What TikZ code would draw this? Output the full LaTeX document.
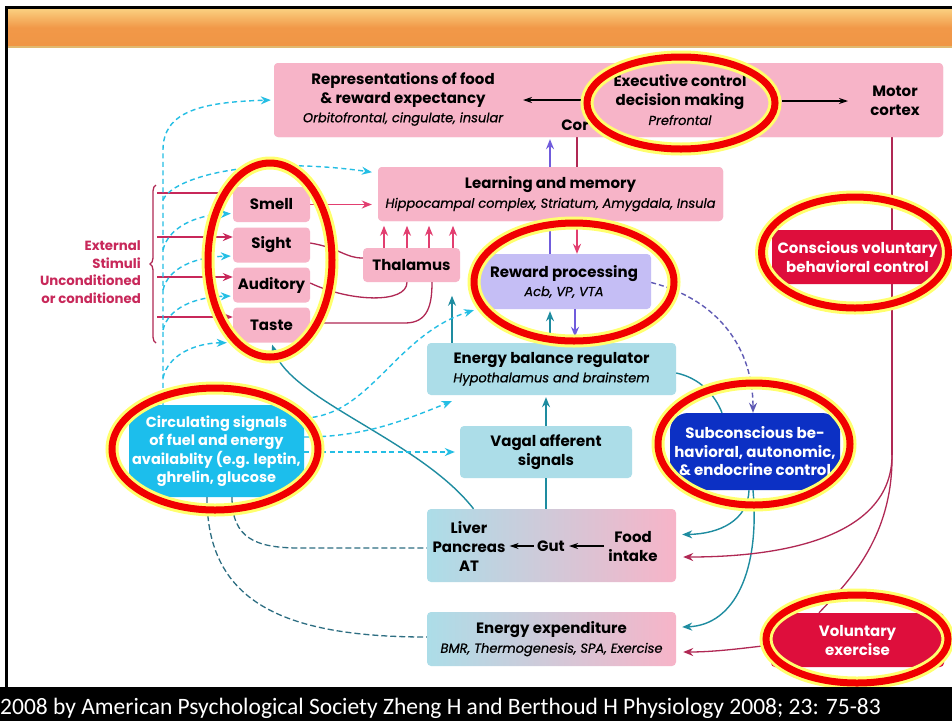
\documentclass[tikz,border=0pt]{standalone}
\usepackage{fontspec}
\setmainfont{Poppins}
\newfontfamily\itfont{Poppins}[ItalicFeatures={FakeBold=0.7}]
\newfontfamily\footfont{Carlito}
\usetikzlibrary{arrows.meta,decorations.pathreplacing,calc}
\definecolor{pinkbox}{RGB}{247,180,200}
\definecolor{lavbox}{RGB}{197,190,245}
\definecolor{bluebox}{RGB}{172,221,232}
\definecolor{cyanbox}{RGB}{28,190,236}
\definecolor{subblue}{RGB}{12,48,196}
\definecolor{redbox}{RGB}{222,14,60}
\definecolor{cyanln}{RGB}{36,190,228}
\definecolor{tealln}{RGB}{30,140,160}
\definecolor{dteal}{RGB}{45,110,130}
\definecolor{pinkln}{RGB}{226,62,112}
\definecolor{maroonln}{RGB}{176,40,84}
\definecolor{purpln}{RGB}{112,92,220}
\definecolor{purpdash}{RGB}{95,90,180}
\definecolor{extred}{RGB}{200,40,90}
\definecolor{ringred}{RGB}{240,0,0}
\definecolor{ringyel}{RGB}{255,255,110}
\definecolor{orTop}{RGB}{250,205,125}
\definecolor{orMid}{RGB}{241,152,72}
\definecolor{orBot}{RGB}{240,150,70}
\newcommand\itsub{\itfont\fontsize{13}{17}\selectfont\mdseries\itshape}
\newcommand\myring[4]{%
  \draw[ringyel, line width=13pt] (#1,#2) ellipse [x radius=#3pt, y radius=#4pt];
  \draw[ringred, line width=7pt] (#1,#2) ellipse [x radius=#3pt, y radius=#4pt];}
\begin{document}
\begin{tikzpicture}[x=1pt,y=-1pt,
  bx/.style={rounded corners=4pt, inner sep=0pt, align=center, font=\fontsize{15}{19}\selectfont\bfseries},
  ttl/.style={inner sep=0pt, align=center, font=\fontsize{15}{19}\selectfont\bfseries},
  sense/.style={bx, fill=pinkbox, minimum width=77pt, minimum height=35pt},
  arr/.style={-{Stealth[length=10pt,width=8pt]}},
  cyd/.style={draw=cyanln, line width=1.4pt, dash pattern=on 5pt off 3.5pt, arr},
  tl/.style={draw=tealln, line width=1.4pt},
  tla/.style={tl, arr},
  dtd/.style={draw=dteal, line width=1.3pt, dash pattern=on 6pt off 3pt},
  pka/.style={draw=pinkln, line width=1.4pt, arr},
  mr/.style={draw=maroonln, line width=1.3pt},
  mra/.style={mr, arr},
  pua/.style={draw=purpln, line width=1.4pt, arr},
  pud/.style={draw=purpdash, line width=1.4pt, dash pattern=on 5pt off 3pt, -{Stealth[length=10pt,width=8pt]}, purpdash},
  bka/.style={draw=black, line width=1.2pt, -{Stealth[length=9pt,width=6pt]}}]
\useasboundingbox (0,0) rectangle (952,721);
\fill[white] (0,0) rectangle (952,721);
% frame and title bar
\draw[line width=2.5pt] (6.5,700) -- (6.5,7.5) -- (960,7.5);
\shade[top color=orTop, bottom color=orBot, middle color=orMid] (8,9.5) rectangle (952,46);
\fill[black!10!orTop] (8,46) rectangle (952,48);

% ---------- positions ----------
\coordinate (topc) at (608.5,100);
\coordinate (learnc) at (550.5,194);
\coordinate (rewc) at (564,281.5);

% ---------- connectors drawn behind boxes ----------
\node[bx, fill=pinkbox, minimum width=669pt, minimum height=74pt] (top) at (topc) {};
\node[bx, fill=lavbox, minimum width=174pt, minimum height=55pt] (reward) at (rewc) {Reward processing\\{\itsub Acb, VP, VTA}};
\node[bx, fill=pinkbox, minimum width=345pt, minimum height=54pt] (learn) at (learnc) {};
\draw[pua, shorten >=2pt] ([xshift=-14pt]reward.north) -- ([xshift=-14pt]reward.north |- top.south);
\draw[mr] ([xshift=-31.5pt]top.south) -- ([xshift=26.5pt]learn.north);
\coordinate (rsplit) at (892,455);
\draw[mr] ([xshift=283.5pt]top.south) -- (rsplit);

% boxes on top
\node[bx, fill=pinkbox, minimum width=345pt, minimum height=54pt] (learn) at (learnc) {Learning and memory\\{\itsub Hippocampal complex, Striatum, Amygdala, Insula}};
\node[bx, fill=pinkbox, minimum width=669pt, minimum height=74pt] (top) at (topc) {};
\node[bx, fill=redbox, text=white, minimum width=171pt, minimum height=54pt] (consc) at (857.5,257) {Conscious voluntary\\behavioral control};

\node[ttl] (repT) at (403,99) {Representations of food\\\& reward expectancy\\{\itsub Orbitofrontal, cingulate, insular}};
\node[ttl] (execT) at (680,100) {Executive control\\decision making\\{\itsub Prefrontal}};
\node[ttl] (motorT) at (895,100.5) {Motor\\cortex};
\node[ttl] (corT) at (575,125) {Cor};
\coordinate (exL) at (592,100);
\coordinate (repR) at (523,100);
\coordinate (exR) at (782,101);
\coordinate (motL) at (848,101);
\draw[bka] (exL) -- (repR);
\draw[bka] (exR) -- (motL);

% sensory boxes
\node[sense] (smell) at (271.5,204.5) {Smell};
\node[sense] (sight) at (271.5,245) {Sight};
\node[sense] (auditory) at (271.5,285) {Auditory};
\node[sense] (taste) at (271.5,325) {Taste};
\node[bx, fill=pinkbox, minimum width=97pt, minimum height=34pt] (thal) at (411.5,265) {Thalamus};

\node[bx, fill=bluebox, minimum width=249pt, minimum height=52pt] (eb) at (551.5,369) {Energy balance regulator\\{\itsub Hypothalamus and brainstem}};
\node[bx, fill=bluebox, minimum width=172pt, minimum height=52pt] (vagal) at (546,452) {Vagal afferent\\signals};
\node[bx, left color=bluebox, right color=pinkbox, minimum width=249pt, minimum height=73pt] (liver) at (551.5,545.5) {};
\node[bx, left color=bluebox, right color=pinkbox, minimum width=249pt, minimum height=54pt] (ee) at (551.5,639) {Energy expenditure\\{\itsub BMR, Thermogenesis, SPA, Exercise}};
\node[ttl] (liverT) at (469,546.5) {Liver\\Pancreas\\AT};
\node[ttl] (gutT) at (551,546) {Gut};
\node[ttl] (foodT) at (633,546.5) {Food\\intake};
\draw[bka, shorten >=4pt, shorten <=3pt] (gutT.west) -- (liverT.east |- gutT.west);
\draw[bka, shorten >=4pt, shorten <=4pt] (foodT.west |- gutT.east) -- (gutT.east);

\node[bx, rounded corners=22pt, fill=cyanbox, text=white, minimum width=175pt, minimum height=92pt, font=\fontsize{14.5}{18.5}\selectfont\bfseries] (circ) at (216.5,451) {Circulating signals\\of fuel and energy\\availablity (e.g. leptin,\\ghrelin, glucose};
\node[bx, rounded corners=18pt, fill=subblue, text=white, minimum width=170pt, minimum height=77pt, font=\fontsize{15}{18.5}\selectfont\bfseries] (subc) at (755,451.5) {Subconscious be-\\havioral, autonomic,\\\& endocrine control};
\node[bx, fill=redbox, text=white, minimum width=173pt, minimum height=54pt] (vol) at (857.5,640) {Voluntary\\exercise};

% external stimuli
\node[inner sep=0pt, anchor=east, align=right, text=extred, font=\fontsize{13.3}{17.5}\selectfont\bfseries] (ext) at (141,272) {External\\Stimuli\\Unconditioned\\or conditioned};
\draw[maroonln, line width=1.3pt, decorate, decoration={brace, amplitude=6pt}] (156,343) -- (156,185);
\draw[draw=extred, line width=1.4pt, arr] (157,193) -- ([yshift=11.5pt]smell.west);
\draw[draw=extred, line width=1.4pt, arr] (157,237) -- ([yshift=8pt]sight.west);
\draw[draw=extred, line width=1.4pt, arr] (157,277) -- ([yshift=8pt]auditory.west);
\draw[draw=extred, line width=1.4pt, arr] (157,317) -- ([yshift=8pt]taste.west);

% sensory -> learning / thalamus
\draw[pka, shorten >=6pt] (smell.east) -- (learn.west |- smell.east);
\draw[mr] ([yshift=2pt]sight.east) .. controls (340,248) and (345,258) .. ([yshift=7pt]thal.west);
\draw[mr] ([yshift=2pt]auditory.east) .. controls (350,302) and (407,304) .. ([xshift=-4.5pt]thal.south);
\draw[mr] ([yshift=2pt]taste.east) -- (405,323) .. controls (428,323) and (432,305) .. ([xshift=20.5pt]thal.south);
\foreach \dx in {-27.5,-4.5,17.5,41.5}
  \draw[pka] ([xshift=\dx pt]thal.north) -- ([xshift=\dx pt,yshift=22pt]thal.north);
\draw[pka] ([xshift=26.5pt]learn.south) -- ([xshift=13pt]reward.north);
\draw[pua, shorten >=6pt] ([xshift=11pt]reward.south) -- ([xshift=23.5pt]eb.north);
\draw[tla, shorten >=2pt] ([xshift=-1.5pt]eb.north) -- ([xshift=-14pt]reward.south);
\draw[tla] ([xshift=-99.5pt]eb.north) -- ([xshift=-99.5pt,yshift=47pt]eb.north);
\draw[tla, shorten >=2pt] (vagal.north) -- (vagal.north |- eb.south);
\draw[tl] (vagal.south) -- (vagal.south |- liver.north);
\draw[tla, shorten >=2pt] ([xshift=-78pt]liver.north) .. controls (420,440) and (290,400) .. (taste.south);

% cyan dashed from circulating signals
\coordinate (cv) at ([xshift=-53.5pt]circ.north);
\coordinate (b1) at (163,200);
\coordinate (b2) at (163,250);
\coordinate (b3) at (163,290);
\coordinate (b4) at (163,330);
\coordinate (b5) at (163,378);
\draw[cyd, shorten >=3pt] (cv) -- (163,150) .. controls (163,112) and (200,102) .. (top.west);
\draw[cyd, shorten >=6pt] (b1) .. controls (172,178) and (250,155) .. ([yshift=21pt]learn.west);
\draw[cyd, shorten >=2pt] (b2) .. controls (168,228) and (195,215) .. ([yshift=-9pt]smell.west);
\draw[cyd, shorten >=2pt] (b3) .. controls (168,268) and (195,257) .. ([yshift=-11pt]sight.west);
\draw[cyd, shorten >=2pt] (b4) .. controls (168,308) and (195,297) .. ([yshift=-11pt]auditory.west);
\draw[cyd, shorten >=6pt] (b5) .. controls (168,355) and (195,343) .. (taste.south west);
\draw[cyd, shorten >=3pt] ([yshift=33pt]circ.east) .. controls (370,416) and (395,335) .. (reward.south west);
\draw[cyd] ([yshift=14pt]circ.east) .. controls (365,437) and (405,420) .. ([xshift=25pt,yshift=-6pt]eb.south west);
\draw[cyd, shorten >=5pt] (circ.east |- vagal.west) -- (vagal.west);
\draw[dtd] ([xshift=15.5pt]circ.south) .. controls (232,538) and (255,548) .. (300,548) -- ([yshift=-2.5pt]liver.west);
\draw[dtd] ([xshift=-9.5pt]circ.south) .. controls (207,600) and (280,637) .. ([yshift=2pt]ee.west);

% reward -> subconscious, eb -> subconscious
\draw[pud] ([yshift=-1pt]reward.east) .. controls (720,300) and (753,350) .. ([xshift=-2pt]subc.north);
\draw[tl] ([yshift=-4pt]eb.east) .. controls (700,378) and (715,395) .. ([xshift=-33pt]subc.north);
\draw[tla] ([xshift=-6pt]subc.south) .. controls (748,520) and (720,534) .. ([xshift=6pt,yshift=11pt]liver.east);
\draw[tla] ([xshift=-2pt]subc.south) .. controls (760,570) and (735,625) .. ([xshift=6pt,yshift=12pt]ee.east);

% red motor paths
\draw[mra] (rsplit) .. controls (892,530) and (800,557) .. ([xshift=7pt,yshift=-11.5pt]liver.east);
\draw[mr] (rsplit) .. controls (893,540) and (845,585) .. ([xshift=-38.5pt]vol.north);
\draw[mra] ([yshift=-5pt]vol.west) .. controls (745,648) and (715,652) .. ([xshift=7pt,yshift=-13pt]ee.east);

% annotation rings
\myring{681}{103}{94}{46}
\myring{270}{260}{62}{97}
\myring{574}{282}{100}{59}
\myring{855}{252.5}{93.5}{55.5}
\myring{215}{449}{103}{61}
\myring{754}{444}{96}{61}
\myring{857}{639}{91}{44}

% footer
\fill[black] (0,687) rectangle (952,721);
\node[anchor=base west, inner sep=0pt, text=white, font=\footfont\fontsize{23.5}{28}\selectfont] (foot) at (0,714) {2008 by American Psychological Society Zheng H and Berthoud H Physiology 2008; 23: 75-83};
\end{tikzpicture}
\end{document}
